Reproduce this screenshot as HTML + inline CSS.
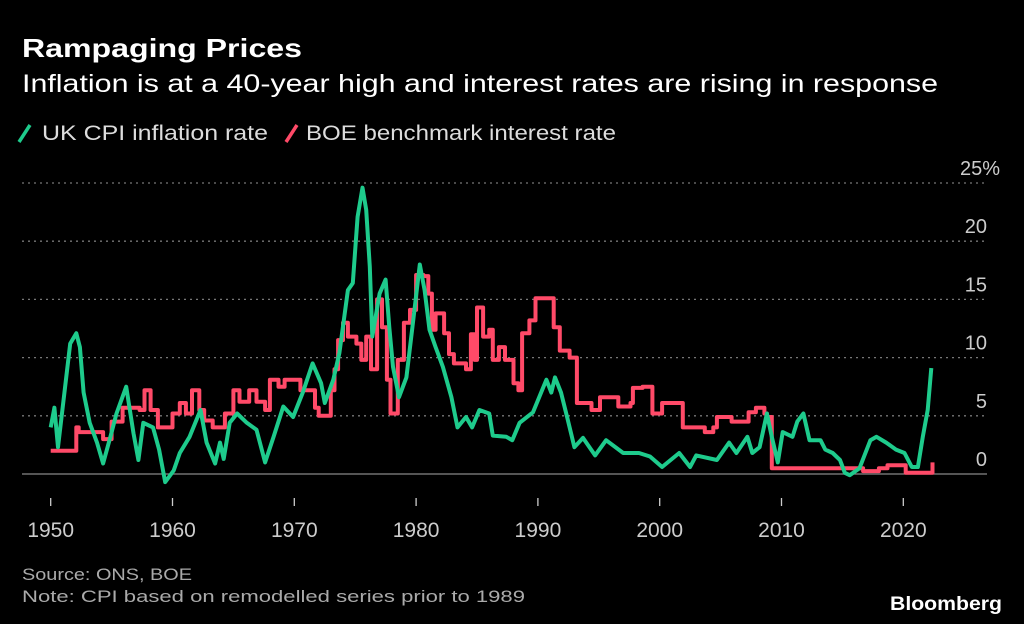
<!DOCTYPE html>
<html><head><meta charset="utf-8">
<style>
html,body{margin:0;padding:0;background:#000;}
svg{display:block;}
text{font-family:"Liberation Sans Narrow","Liberation Sans",sans-serif;}
</style></head>
<body>
<svg id="chart" width="1024" height="624" viewBox="0 0 1024 624" xmlns="http://www.w3.org/2000/svg">
<rect width="1024" height="624" fill="#000"/>
<text x="22" y="57" fill="#fff" font-size="26" font-weight="bold" textLength="280" lengthAdjust="spacingAndGlyphs" style="font-family:'Liberation Sans',sans-serif">Rampaging Prices</text>
<text x="22" y="92" fill="#fff" font-size="25" textLength="916" lengthAdjust="spacingAndGlyphs">Inflation is at a 40-year high and interest rates are rising in response</text>
<g>
<line x1="19" y1="142" x2="30" y2="125" stroke="#1ecb8c" stroke-width="3.5"/>
<text x="42" y="140" fill="#ddd" font-size="21" textLength="226" lengthAdjust="spacingAndGlyphs">UK CPI inflation rate</text>
<line x1="286" y1="142" x2="297" y2="125" stroke="#ff4a68" stroke-width="3.5"/>
<text x="306" y="140" fill="#ddd" font-size="21" textLength="310" lengthAdjust="spacingAndGlyphs">BOE benchmark interest rate</text>
</g>
<g id="grid"></g>
<g id="xaxis"></g>
<g id="series"></g>
<text x="22" y="580" fill="#aaa" font-size="17" textLength="170" lengthAdjust="spacingAndGlyphs">Source: ONS, BOE</text>
<text x="22" y="602" fill="#aaa" font-size="17" textLength="503" lengthAdjust="spacingAndGlyphs">Note: CPI based on remodelled series prior to 1989</text>
<text x="1002" y="610" text-anchor="end" fill="#fff" font-size="19" font-weight="bold" style="font-family:'Liberation Sans',sans-serif" textLength="112" lengthAdjust="spacingAndGlyphs">Bloomberg</text>
</svg>
<script>
const yTicks=[0,5,10,15,20,25];
const yTickLabels=["0","5","10","15","20","25%"];
const xTicks=[1950,1960,1970,1980,1990,2000,2010,2020];
const cpiYears=[1950,1950.3,1950.6,1951.6,1952.1,1952.4,1952.7,1953.2,1953.8,1954.3,1954.9,1955.4,1956.2,1956.8,1957.2,1957.6,1958.4,1958.9,1959.4,1960.1,1960.6,1961.4,1962.3,1962.8,1963.5,1963.9,1964.2,1964.7,1965.3,1966.1,1966.9,1967.6,1968.3,1969.1,1969.9,1970.7,1971.5,1972.2,1972.5,1973.2,1973.7,1974.4,1974.8,1975.2,1975.6,1975.9,1976.2,1976.4,1977.0,1977.5,1977.8,1978.1,1978.6,1979.2,1979.7,1980.3,1980.7,1981.1,1981.6,1982.2,1982.9,1983.4,1984.1,1984.6,1985.2,1986.0,1986.3,1987.4,1987.9,1988.5,1989.6,1990.7,1991.1,1991.4,1991.9,1992.4,1993.0,1993.7,1994.7,1995.6,1997.0,1998.3,1999.2,2000.2,2001.6,2002.5,2003.0,2004.7,2005.7,2006.3,2007.2,2007.6,2008.2,2008.8,2009.2,2009.7,2010.1,2010.9,2011.3,2011.8,2012.3,2013.2,2013.6,2014.2,2014.8,2015.2,2015.6,2016.4,2017.3,2017.8,2018.6,2019.4,2020.1,2020.7,2021.2,2021.6,2022.0,2022.3];
const cpiValues=[4.0,5.7,2.3,11.2,12.1,10.9,7.0,4.4,2.7,0.9,3.2,5.2,7.5,3.5,1.2,4.4,4.0,2.1,-0.7,0.3,1.8,3.2,5.5,2.7,0.9,2.7,1.3,4.4,5.2,4.4,3.8,1.0,3.2,5.8,4.9,7.0,9.5,7.8,6.1,8.1,10.4,15.8,16.4,22.1,24.6,22.7,17.8,11.8,15.5,16.7,12.6,9.2,6.6,8.3,12.6,18.0,15.8,12.4,10.9,9.2,6.6,4.0,4.9,4.0,5.5,5.2,3.3,3.2,2.9,4.4,5.3,8.1,7.0,8.3,7.0,4.9,2.3,3.1,1.6,2.9,1.8,1.8,1.5,0.6,1.8,0.6,1.6,1.2,2.7,1.8,3.2,1.8,2.3,5.2,3.2,1.0,3.6,3.2,4.5,5.2,2.9,2.9,2.1,1.8,1.2,0.1,-0.1,0.5,2.9,3.2,2.7,2.1,1.8,0.6,0.6,3.2,5.5,9.1];
const boeYears=[1950,1951.7,1952.1,1952.3,1954.3,1955.0,1955.9,1957.3,1957.7,1958.2,1958.8,1960.0,1960.6,1961.1,1961.6,1962.2,1962.6,1963.3,1964.3,1965.0,1965.5,1966.3,1966.9,1967.6,1968.0,1968.7,1969.2,1970.2,1970.5,1971.5,1971.7,1972.0,1972.5,1973.0,1973.3,1973.6,1974.0,1974.4,1975.1,1975.5,1975.9,1976.3,1976.8,1977.2,1977.6,1977.9,1978.5,1979.0,1979.5,1980.0,1980.6,1981.0,1981.3,1981.6,1982.3,1982.7,1983.1,1984.1,1984.5,1984.8,1985.0,1985.5,1986.0,1986.3,1986.8,1987.3,1987.6,1988.0,1988.4,1988.7,1989.3,1989.8,1990.8,1991.3,1991.8,1992.4,1992.6,1993.2,1993.9,1994.4,1995.1,1995.9,1996.6,1997.6,1997.8,1998.6,1999.4,1999.8,2000.2,2001.0,2001.9,2003.0,2003.7,2004.4,2004.7,2005.5,2005.9,2006.7,2007.3,2007.9,2008.6,2008.8,2009.2,2016.6,2016.7,2017.9,2018.0,2018.6,2018.7,2020.1,2020.2,2021.9,2022.4];
const boeValues=[2.0,2.0,4.0,3.6,3.0,4.5,5.7,5.5,7.2,5.5,4.0,5.2,6.1,5.2,7.2,5.5,4.6,4.0,5.2,7.2,6.2,7.2,6.2,5.5,8.1,7.5,8.1,8.1,7.2,7.2,5.7,5.0,5.0,7.2,9.0,11.5,13.0,11.8,11.2,9.8,11.8,9.0,15.0,12.6,8.1,5.2,9.8,13.0,14.1,17.1,17.0,15.5,12.4,13.8,12.1,10.3,9.5,9.0,12.0,9.8,14.3,11.8,12.4,9.8,10.9,9.8,9.8,7.8,7.2,12.1,13.2,15.1,15.1,12.6,10.6,10.6,10.0,6.1,6.1,5.5,6.6,6.6,5.8,6.1,7.4,7.5,5.2,5.2,6.1,6.1,4.0,4.0,3.6,4.0,4.9,4.9,4.5,4.5,5.3,5.7,5.2,4.9,0.5,0.5,0.25,0.25,0.5,0.5,0.75,0.75,0.1,0.1,1.0];

const NS="http://www.w3.org/2000/svg";
const X0=50.7,XPY=12.18,Y0=474,YPU=11.64;
function xScale(yr){return X0+(yr-1950)*XPY;}
function yScale(v){return Y0-v*YPU;}
const grid=document.getElementById('grid');
yTicks.forEach((t,i)=>{
  const y=yScale(t);
  const ln=document.createElementNS(NS,'line');
  
  
  ln.setAttribute('x1',22);ln.setAttribute('x2',987);
  ln.setAttribute('y1',y);ln.setAttribute('y2',y);
  if(t===0){ln.setAttribute('stroke','#888');ln.setAttribute('stroke-width','1.3');}
  else{ln.setAttribute('stroke','#777');ln.setAttribute('stroke-width','1.3');ln.setAttribute('stroke-dasharray','2 4');}
  grid.appendChild(ln);
  const tx=document.createElementNS(NS,'text');
  
  
  tx.setAttribute('x',t===25?1000:987);tx.setAttribute('y',y-8);
  tx.setAttribute('text-anchor','end');tx.setAttribute('fill','#ccc');tx.setAttribute('font-size','20');
  tx.textContent=yTickLabels[i];
  grid.appendChild(tx);
});
const xa=document.getElementById('xaxis');
xTicks.forEach(t=>{
  const x=xScale(t);
  const ln=document.createElementNS(NS,'line');
  
  
  ln.setAttribute('x1',x);ln.setAttribute('x2',x);ln.setAttribute('y1',498);ln.setAttribute('y2',506);
  ln.setAttribute('stroke','#ccc');ln.setAttribute('stroke-width','1.3');
  xa.appendChild(ln);
  const tx=document.createElementNS(NS,'text');
  
  
  tx.setAttribute('x',x);tx.setAttribute('y',537);tx.setAttribute('text-anchor','middle');
  tx.setAttribute('fill','#ccc');tx.setAttribute('font-size','21');
  tx.textContent=String(t);
  xa.appendChild(tx);
});
function drawSeries(years,vals,color,name,step){
  let pts=[];
  years.forEach((yr,i)=>{
    const x=xScale(yr),y=yScale(vals[i]);
    if(step&&i>0){pts.push(x.toFixed(1)+','+yScale(vals[i-1]).toFixed(1));}
    pts.push(x.toFixed(1)+','+y.toFixed(1));
  });
  const pl=document.createElementNS(NS,'polyline');
  
  
  pl.setAttribute('points',pts.join(' '));pl.setAttribute('fill','none');
  pl.setAttribute('stroke',color);pl.setAttribute('stroke-width','4');
  pl.setAttribute('stroke-linejoin','round');
  document.getElementById('series').appendChild(pl);
}
drawSeries(boeYears,boeValues,'#ff4a68','boe-rate-line',true);
drawSeries(cpiYears,cpiValues,'#1ecb8c','cpi-inflation-line',false);
</script>
</body></html>
